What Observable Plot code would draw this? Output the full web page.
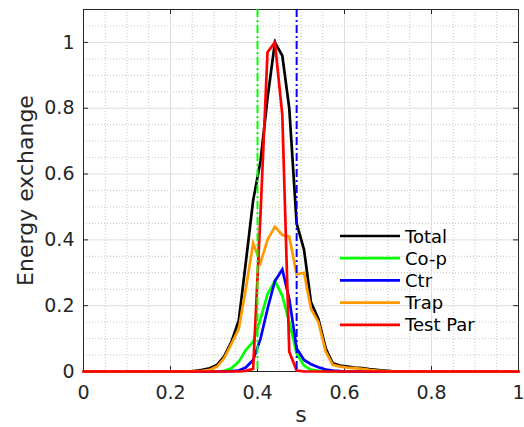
<!DOCTYPE html>
<html><head><meta charset="utf-8">
<script src="https://cdn.jsdelivr.net/npm/d3@7"></script>
<script src="https://cdn.jsdelivr.net/npm/@observablehq/plot@0.6"></script>
<style>
html,body{margin:0;padding:0;background:#fff;}
#wrap{position:relative;width:524px;height:427px;overflow:hidden;}
</style></head><body><div id="wrap"></div>
<script>
// ---- data ----
const s       = [0, 0.24, 0.257, 0.273, 0.29, 0.307, 0.323, 0.34, 0.357, 0.373, 0.39, 0.407, 0.423, 0.44, 0.457, 0.473, 0.49, 0.507, 0.523, 0.54, 0.557, 0.573, 0.59, 0.607, 0.623, 0.64, 0.657, 0.673, 0.69, 0.707, 1];
const total   = [0, 0, 0.002, 0.005, 0.01, 0.02, 0.045, 0.09, 0.155, 0.33, 0.52, 0.64, 0.83, 1.0, 0.96, 0.8, 0.45, 0.37, 0.21, 0.16, 0.07, 0.025, 0.018, 0.015, 0.012, 0.01, 0.007, 0.005, 0.003, 0.001, 0];
const cop     = [0, 0, 0, 0, 0, 0, 0.002, 0.01, 0.03, 0.065, 0.09, 0.16, 0.235, 0.275, 0.23, 0.15, 0.055, 0.018, 0.005, 0.002, 0, 0, 0, 0, 0, 0, 0, 0, 0, 0, 0];
const ctr     = [0, 0, 0, 0, 0, 0, 0, 0.001, 0.003, 0.012, 0.035, 0.1, 0.19, 0.275, 0.31, 0.22, 0.07, 0.035, 0.022, 0.013, 0.006, 0.003, 0.001, 0, 0, 0, 0, 0, 0, 0, 0];
const trap    = [0, 0, 0.001, 0.002, 0.005, 0.015, 0.04, 0.084, 0.13, 0.25, 0.39, 0.33, 0.40, 0.44, 0.415, 0.41, 0.295, 0.30, 0.19, 0.15, 0.06, 0.02, 0.015, 0.012, 0.01, 0.008, 0.005, 0.003, 0.001, 0, 0];
const testPar = [0, 0, 0, 0, 0, 0, 0, 0, 0, 0.002, 0.008, 0.48, 0.97, 1.0, 0.78, 0.06, 0.003, 0, 0, 0, 0, 0, 0, 0, 0, 0, 0, 0, 0, 0, 0];

const seriesNames  = ["Total", "Co-p", "Ctr", "Trap", "Test Par"];
const seriesColors = ["#000000", "#00ff00", "#0000ff", "#ff9900", "#ff0000"];
const markerS      = [0.4, 0.49];
const markerColors = ["#00ff00", "#0000ff"];
const xTicks = [0, 0.2, 0.4, 0.6, 0.8, 1];
const yTicks = [0, 0.2, 0.4, 0.6, 0.8, 1];
const xLabel = "s";
const yLabel = "Energy exchange";

// ---- build ----
const seriesValues = [total, cop, ctr, trap, testPar];
const rows = seriesNames.flatMap((name, i) => s.map((x, j) => ({s: x, v: seriesValues[i][j], name})));
const markers = markerS.map((x, i) => ({s: x, c: markerColors[i]}));
const r2 = d => Math.round(d * 100) / 100;
const minorX = d3.range(0, 1.0001, 0.05).map(r2).filter(d => !xTicks.includes(d));
const minorY = d3.range(0, 1.0501, 0.05).map(r2).filter(d => !yTicks.includes(d));

const W = 524, H = 427;
const mL = 83, mR = 6, mT = 9, mB = 56;
const pw = W - mL - mR, ph = H - mT - mB, tick = 5;
const axisColor = "#262626";

const chart = Plot.plot({
  width: W, height: H,
  marginLeft: mL, marginRight: mR, marginTop: mT, marginBottom: mB,
  x: {domain: [0, 1]},
  y: {domain: [0, 1.1]},
  style: {fontFamily: "'DejaVu Sans', sans-serif", background: "#fff", color: axisColor},
  marks: [
    Plot.gridX(minorX, {stroke: "#c4c4c4", strokeOpacity: 1, strokeDasharray: "1,2"}),
    Plot.gridY(minorY, {stroke: "#c4c4c4", strokeOpacity: 1, strokeDasharray: "1,2"}),
    Plot.gridX(xTicks, {stroke: "#dedede", strokeOpacity: 1}),
    Plot.gridY(yTicks, {stroke: "#dedede", strokeOpacity: 1}),
    Plot.frame({stroke: axisColor, strokeWidth: 1}),
    Plot.ruleY(yTicks, {y: d => d, insetRight: pw - tick, stroke: axisColor}),
    Plot.ruleY(yTicks, {y: d => d, insetLeft: pw - tick, stroke: axisColor}),
    Plot.ruleX(xTicks, {x: d => d, insetTop: ph - tick, stroke: axisColor}),
    Plot.ruleX(xTicks, {x: d => d, insetBottom: ph - tick, stroke: axisColor}),
    Plot.axisX(xTicks, {tickSize: 0, tickPadding: 14, fontSize: 19, label: null, fill: axisColor, tickFormat: d => String(d)}),
    Plot.axisY(yTicks, {tickSize: 0, tickPadding: 9, fontSize: 19, label: null, fill: axisColor, tickFormat: d => String(d)}),
    Plot.text([xLabel], {frameAnchor: "bottom", dy: 50, lineAnchor: "bottom", textAnchor: "middle", fontSize: 22, fill: axisColor}),
    Plot.text([yLabel], {frameAnchor: "left", dx: -66, rotate: -90, lineAnchor: "top", textAnchor: "middle", fontSize: 22, fill: axisColor}),
    Plot.line(rows, {x: "s", y: "v", z: "name", stroke: d => seriesColors[seriesNames.indexOf(d.name)], strokeWidth: 2.7, strokeLinejoin: "miter", strokeMiterlimit: 4}),
    Plot.ruleX(markers, {x: "s", stroke: "c", strokeWidth: 2, strokeDasharray: "8,3,2,3"})
  ]
});
chart.style.position = "absolute";
chart.style.left = "0"; chart.style.top = "0";
const wrap = document.getElementById("wrap");
wrap.appendChild(chart);

// ---- legend (transparent, overlaid inside the axes) ----
const leg = d3.create("svg").attr("width", W).attr("height", H)
  .style("position", "absolute").style("left", "0").style("top", "0");
const legX = 340, legY = 236, legStep = 22.2, legLen = 60;
seriesNames.forEach((n, i) => {
  const y = legY + legStep * i;
  leg.append("line").attr("x1", legX).attr("x2", legX + legLen).attr("y1", y).attr("y2", y)
    .attr("stroke", seriesColors[i]).attr("stroke-width", 2.7);
  leg.append("text").attr("x", legX + legLen + 5).attr("y", y + 6.6).text(n)
    .attr("font-family", "'DejaVu Sans', sans-serif").attr("font-size", 18).attr("fill", "#000");
});
wrap.appendChild(leg.node());
</script></body></html>
